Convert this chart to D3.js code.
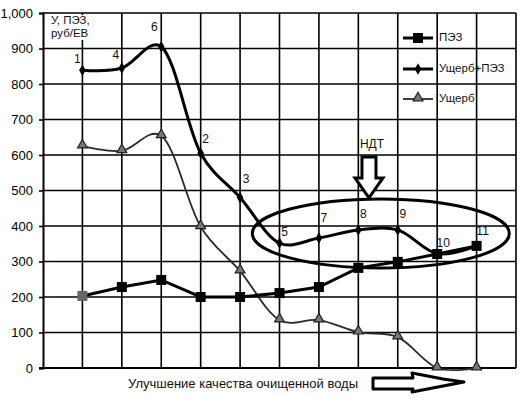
<!DOCTYPE html>
<html>
<head>
<meta charset="utf-8">
<script src="https://cdn.jsdelivr.net/npm/d3@7"></script>
<style>
  body { margin: 0; background: #fff; }
  svg { display: block; font-family: "Liberation Sans", Arial, sans-serif; }
</style>
</head>
<body>
<div class="chart"></div>
<script>
// данные
const pointNames = ["1", "4", "6", "2", "3", "5", "7", "8", "9", "10", "11"];
const pez = [203, 228, 248, 200, 200, 211, 228, 282, 299, 321, 344];          // ПЭЗ
const damagePlusPez = [839, 845, 905, 605, 480, 352, 366, 389, 389, 322, 344]; // Ущерб+ПЭЗ
const damage = [625, 612, 654, 398, 273, 135, 135, 101, 87, 0, 0];           // Ущерб
const yTicks = [0, 100, 200, 300, 400, 500, 600, 700, 800, 900, 1000];

const seriesNames = ["ПЭЗ", "Ущерб+ПЭЗ", "Ущерб"];

// сдвиги подписей точек (dx, dy)
const labelShift = [[-5,-10],[-6,-12],[-7,-19],[5,-13],[6,-18],[5,-10],[5,-19],[5,-15],[5,-15],[6,-10],[6,-14]];

const W = 524, H = 398;
const svg = d3.select(".chart").append("svg").attr("width", W).attr("height", H);

const x = d3.scaleLinear().domain([0, 12]).range([43, 516]);
const y = d3.scaleLinear().domain([0, 1000]).range([368, 13]);
const idx = d3.range(pez.length).map(i => i + 1);

// сетка
svg.append("g").selectAll("line").data(yTicks.slice(1)).enter().append("line")
  .attr("x1", x(0)).attr("x2", x(12))
  .attr("y1", d => y(d)).attr("y2", d => y(d))
  .attr("stroke", "#000").attr("stroke-width", 1.6);
svg.append("g").selectAll("line").data(d3.range(1, 13)).enter().append("line")
  .attr("x1", d => x(d)).attr("x2", d => x(d))
  .attr("y1", y(0)).attr("y2", y(1000))
  .attr("stroke", "#000").attr("stroke-width", 1.6);

// ось Y
const yAxis = svg.append("g")
  .attr("transform", `translate(${x(0)},0)`)
  .call(d3.axisLeft(y).tickValues(yTicks).tickSize(4).tickPadding(6));
yAxis.select(".domain").attr("stroke", "#000").attr("stroke-width", 2);
yAxis.selectAll(".tick line").attr("stroke", "#000").attr("stroke-width", 1.6);
yAxis.selectAll("text").attr("fill", "#000").style("font-size", "13px")
  .style("font-family", "'Liberation Sans', Arial, sans-serif");

// ось X
svg.append("line")
  .attr("x1", x(0) - 4).attr("x2", x(12))
  .attr("y1", y(0)).attr("y2", y(0))
  .attr("stroke", "#000").attr("stroke-width", 2.2);

// подпись оси Y
svg.append("rect").attr("x", 47).attr("y", 15).attr("width", 50).attr("height", 25).attr("fill", "#fff");
svg.append("text").attr("x", 51).attr("y", 24).text("У, ПЭЗ,")
  .style("font-size", "11.5px").attr("fill", "#111");
svg.append("text").attr("x", 51).attr("y", 37).text("руб/ЕВ")
  .style("font-size", "11.5px").attr("fill", "#111");

// линии
const smooth = d3.line().x((d, i) => x(idx[i])).y(d => y(d)).curve(d3.curveCatmullRom.alpha(0.2));
const straight = d3.line().x((d, i) => x(idx[i])).y(d => y(d));

svg.append("path").datum(damage).attr("d", smooth)
  .attr("fill", "none").attr("stroke", "#2a2a2a").attr("stroke-width", 1.8);
svg.append("path").datum(pez).attr("d", straight)
  .attr("fill", "none").attr("stroke", "#000").attr("stroke-width", 3);
svg.append("path").datum(damagePlusPez).attr("d", smooth)
  .attr("fill", "none").attr("stroke", "#000").attr("stroke-width", 3);

// маркеры
const tri = d3.symbol().type(d3.symbolTriangle).size(42);
const dia = d3.symbol().type(d3.symbolDiamond).size(38);

svg.append("g").selectAll("path").data(damage).enter().append("path")
  .attr("d", tri)
  .attr("transform", (d, i) => `translate(${x(idx[i])},${y(d) - 1})`)
  .attr("fill", "#777").attr("stroke", "#222").attr("stroke-width", 1.2);

svg.append("g").selectAll("rect").data(pez).enter().append("rect")
  .attr("x", (d, i) => x(idx[i]) - 5).attr("y", d => y(d) - 5)
  .attr("width", 10).attr("height", 10)
  .attr("fill", (d, i) => i === 0 ? "#666" : "#000");

svg.append("g").selectAll("path").data(damagePlusPez.slice(0, 10)).enter().append("path")
  .attr("d", dia)
  .attr("transform", (d, i) => `translate(${x(idx[i])},${y(d)})`)
  .attr("fill", "#000");

// номера точек
svg.append("g").selectAll("text").data(damagePlusPez).enter().append("text")
  .attr("x", (d, i) => x(idx[i]) + labelShift[i][0])
  .attr("y", (d, i) => y(d) + labelShift[i][1])
  .attr("text-anchor", "middle").attr("dominant-baseline", "middle")
  .style("font-size", "12px").attr("fill", "#111")
  .text((d, i) => pointNames[i]);

// эллипс вокруг области НДТ
svg.append("ellipse")
  .attr("cx", x(8.57)).attr("cy", y(379))
  .attr("rx", 128.5).attr("ry", 34.5)
  .attr("fill", "none").attr("stroke", "#000").attr("stroke-width", 3);

// стрелка НДТ
const ax = x(8.27), tipY = y(479);
svg.append("path")
  .attr("d", `M${ax - 7},${tipY - 41} L${ax + 7},${tipY - 41} L${ax + 7},${tipY - 20} L${ax + 14},${tipY - 20} L${ax},${tipY} L${ax - 14},${tipY - 20} L${ax - 7},${tipY - 20} Z`)
  .attr("fill", "#fff").attr("stroke", "#000").attr("stroke-width", 3).attr("stroke-linejoin", "miter");
svg.append("text").attr("x", ax + 3).attr("y", tipY - 50)
  .attr("text-anchor", "middle").style("font-size", "12px").attr("fill", "#111").text("НДТ");

// подпись оси X и стрелка
svg.append("text").attr("x", 128).attr("y", 388)
  .style("font-size", "13px").attr("fill", "#111")
  .text("Улучшение качества очищенной воды");
svg.append("path")
  .attr("d", "M373,378 L413,378 L412,373 L443,379 L464,382 L443,386 L412,392 L413,389 L373,389 Z")
  .attr("fill", "#fff").attr("stroke", "#000").attr("stroke-width", 3).attr("stroke-linejoin", "round");

// легенда
const legY = [38, 69, 99];
const leg = svg.append("g");
leg.selectAll("line").data(seriesNames).enter().append("line")
  .attr("x1", 403).attr("x2", 433)
  .attr("y1", (d, i) => legY[i]).attr("y2", (d, i) => legY[i])
  .attr("stroke", (d, i) => i === 2 ? "#2a2a2a" : "#000")
  .attr("stroke-width", (d, i) => i === 2 ? 1.8 : 3);
leg.append("rect").attr("x", 413).attr("y", legY[0] - 5).attr("width", 10).attr("height", 10).attr("fill", "#000");
leg.append("path").attr("d", dia).attr("transform", `translate(418,${legY[1]})`).attr("fill", "#000");
leg.append("path").attr("d", tri).attr("transform", `translate(418,${legY[2] - 1})`)
  .attr("fill", "#777").attr("stroke", "#222").attr("stroke-width", 1.2);
leg.selectAll("text").data(seriesNames).enter().append("text")
  .attr("x", 439).attr("y", (d, i) => legY[i])
  .attr("dominant-baseline", "middle")
  .style("font-size", "11.5px").attr("fill", "#111")
  .text(d => d);
</script>
</body>
</html>
